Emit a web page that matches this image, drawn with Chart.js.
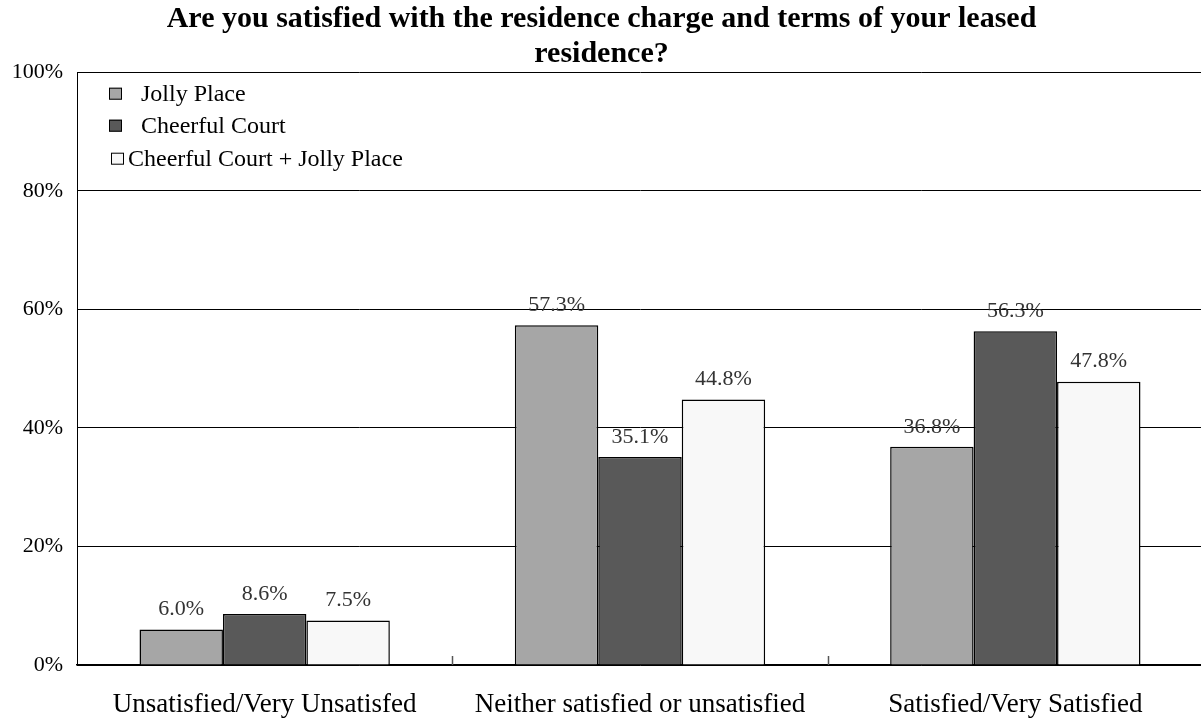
<!DOCTYPE html>
<html><head><meta charset="utf-8">
<script src="https://cdn.jsdelivr.net/npm/chart.js@4/dist/chart.umd.min.js"></script>
<style>html,body{margin:0;padding:0;background:#fff;overflow:hidden}
#wrap{width:1203px;height:720px;position:relative}</style>
</head><body><div id="wrap"><canvas id="c"></canvas></div>
<script>
const categories = ["Unsatisfied/Very Unsatisfed","Neither satisfied or unsatisfied","Satisfied/Very Satisfied"];
const seriesNames = ["Jolly Place","Cheerful Court","Cheerful Court + Jolly Place"];
const jollyPlace = [6.0, 57.3, 36.8];
const cheerfulCourt = [8.6, 35.1, 56.3];
const combined = [7.5, 44.8, 47.8];
const yTickStep = 20;
const titleLines = ["Are you satisfied with the residence charge and terms of your leased","residence?"];
const seriesColors = ['#a6a6a6','#595959','#f8f8f8'];

const extras = {
  id: 'extras',
  afterDatasetsDraw(chart) {
    const ctx = chart.ctx, ca = chart.chartArea, xs = chart.scales.x;
    ctx.save();
    // inner category boundary ticks
    ctx.strokeStyle = '#555'; ctx.lineWidth = 1.5;
    const step = xs.getPixelForValue(1) - xs.getPixelForValue(0);
    for (let i = 0; i < categories.length; i++) {
      const px = xs.getPixelForValue(i) + step / 2;
      ctx.beginPath(); ctx.moveTo(Math.round(px) + 0.5, ca.bottom); ctx.lineTo(Math.round(px) + 0.5, ca.bottom - 9); ctx.stroke();
    }
    // data labels
    ctx.font = '22px "Liberation Serif"';
    ctx.fillStyle = '#333'; ctx.textAlign = 'center'; ctx.textBaseline = 'middle';
    chart.data.datasets.forEach((ds, di) => {
      const meta = chart.getDatasetMeta(di);
      meta.data.forEach((el, i) => {
        ctx.fillText(ds.data[i].toFixed(1) + '%', el.x, el.y - 20);
      });
    });
    // legend
    const rows = [
      {dy: 21.5, mx: 109, tx: 141},
      {dy: 53.5, mx: 109, tx: 141},
      {dy: 86.5, mx: 111, tx: 128}
    ];
    ctx.font = '24px "Liberation Serif"';
    ctx.textAlign = 'left';
    chart.data.datasets.forEach((ds, di) => {
      const r = rows[di];
      const y = ca.top + r.dy;
      ctx.fillStyle = ds.backgroundColor;
      ctx.fillRect(r.mx, y - 6, 13, 12);
      ctx.strokeStyle = '#000'; ctx.lineWidth = 1;
      ctx.strokeRect(r.mx + 0.5, y - 6 + 0.5, 12, 11);
      ctx.fillStyle = '#000';
      ctx.fillText(ds.label, r.tx, y + 1);
    });
    ctx.restore();
  }
};

new Chart(document.getElementById('c'), {
  type: 'bar',
  data: {
    labels: categories,
    datasets: [
      {label: seriesNames[0], data: jollyPlace, backgroundColor: seriesColors[0]},
      {label: seriesNames[1], data: cheerfulCourt, backgroundColor: seriesColors[1]},
      {label: seriesNames[2], data: combined, backgroundColor: seriesColors[2]}
    ].map(d => Object.assign(d, {borderColor: '#000', borderWidth: 1.5, categoryPercentage: 0.667, barPercentage: 1.0}))
  },
  options: {
    responsive: true, maintainAspectRatio: false, animation: false,
    layout: {padding: {top: 0, left: 0, right: 0, bottom: 0}},
    plugins: {
      legend: {display: false},
      tooltip: {enabled: false},
      title: {display: true, text: titleLines, color: '#000',
        font: {family: '"Liberation Serif"', size: 30, weight: 'bold', lineHeight: 1.17},
        padding: {top: 2, bottom: 0}}
    },
    scales: {
      x: {
        grid: {display: false, drawTicks: false},
        border: {display: true, color: '#000', width: 1.5},
        ticks: {color: '#000', font: {family: '"Liberation Serif"', size: 27}, padding: 24, maxRotation: 0},
        afterFit(s) { s.height = 55; }
      },
      y: {
        min: 0, max: 100,
        ticks: {stepSize: yTickStep, callback: v => v + '%', color: '#000', font: {family: '"Liberation Serif"', size: 22}, padding: 14},
        grid: {color: '#000', lineWidth: 1, drawTicks: false},
        border: {display: true, color: '#000', width: 1},
        afterFit(s) { s.width = 77; }
      }
    }
  },
  plugins: [extras]
});
</script></body></html>
